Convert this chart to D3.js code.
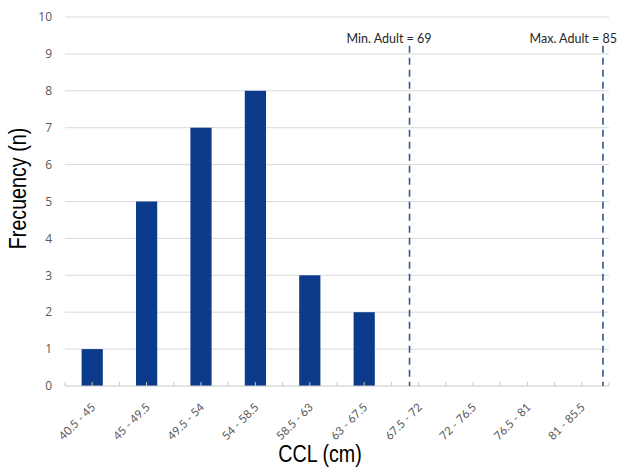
<!DOCTYPE html>
<html>
<head>
<meta charset="utf-8">
<script src="https://cdn.jsdelivr.net/npm/d3@7"></script>
<style>
  body { margin: 0; background: #fff; }
</style>
</head>
<body>
<div id="chart"></div>
<script>
// data
var bins = ["40.5 - 45", "45 - 49.5", "49.5 - 54", "54 - 58.5", "58.5 - 63",
            "63 - 67.5", "67.5 - 72", "72 - 76.5", "76.5 - 81", "81 - 85.5"];
var counts = [1, 5, 7, 8, 3, 2, 0, 0, 0, 0];
var yTicks = [0, 1, 2, 3, 4, 5, 6, 7, 8, 9, 10];
var refNames = ["Min. Adult = 69", "Max. Adult = 85"];
var refValues = [69, 85];
var ccl = [40.5, 85.5];

var svgWidth = 618;
var svgHeight = 467;
var margin = { top: 17, right: 9, bottom: 81, left: 65 };
var width = svgWidth - margin.left - margin.right;
var height = svgHeight - margin.top - margin.bottom;

var svg = d3.select("#chart")
  .append("svg")
  .attr("width", svgWidth)
  .attr("height", svgHeight);

var g = svg.append("g")
  .attr("transform", `translate(${margin.left}, ${margin.top})`);

var x = d3.scaleBand().domain(bins).range([0, width]).padding(0);
var xLin = d3.scaleLinear().domain(ccl).range([0, width]);
var y = d3.scaleLinear().domain([0, 10]).range([height, 0]);

// gridlines
g.selectAll(".grid")
  .data(yTicks.filter(d => d > 0))
  .enter().append("line")
  .attr("x1", 0).attr("x2", width)
  .attr("y1", d => y(d)).attr("y2", d => y(d))
  .attr("stroke", "#d9d9d9").attr("stroke-width", 1);

// y tick labels
g.selectAll(".ylab")
  .data(yTicks)
  .enter().append("text")
  .attr("x", -13)
  .attr("y", d => y(d))
  .attr("dy", "0.35em")
  .attr("text-anchor", "end")
  .style("font-family", "Open Sans, sans-serif")
  .style("font-size", "12px")
  .attr("fill", "#595959")
  .text(d => d);

// bars
var barW = x.bandwidth() * 0.39;
g.selectAll(".bar")
  .data(counts)
  .enter().append("rect")
  .attr("x", (d, i) => x(bins[i]) + x.bandwidth() / 2 - barW / 2)
  .attr("y", d => y(d))
  .attr("width", barW)
  .attr("height", d => height - y(d))
  .attr("fill", "#0c3b8c");

// x axis line and ticks (edges and centres)
g.append("line")
  .attr("x1", 0).attr("x2", width)
  .attr("y1", height).attr("y2", height)
  .attr("stroke", "#c8c8c8");

var tickPos = [];
bins.forEach(function (b) {
  tickPos.push(x(b));
  tickPos.push(x(b) + x.bandwidth() / 2);
});
tickPos.push(width);
g.selectAll(".xtick")
  .data(tickPos)
  .enter().append("line")
  .attr("x1", d => d).attr("x2", d => d)
  .attr("y1", height).attr("y2", height - 4)
  .attr("stroke", "#c8c8c8");

// x tick labels
g.selectAll(".xlab")
  .data(bins)
  .enter().append("text")
  .attr("transform", d => `translate(${x(d) + x.bandwidth() / 2 + 4}, ${height + 22}) rotate(-45)`)
  .attr("text-anchor", "end")
  .style("font-family", "Lato, sans-serif")
  .style("font-size", "11.5px")
  .attr("fill", "#595959")
  .text(d => d);

// reference lines
g.selectAll(".ref")
  .data(refValues)
  .enter().append("line")
  .attr("x1", d => xLin(d)).attr("x2", d => xLin(d))
  .attr("y1", y(9.22)).attr("y2", height)
  .attr("stroke", "#2f5b8f")
  .attr("stroke-width", 1.6)
  .attr("stroke-dasharray", "7,5");

g.selectAll(".reflab")
  .data(refValues)
  .enter().append("text")
  .attr("x", d => Math.min(xLin(d) + 22, width + margin.right - 1))
  .attr("y", y(9.22) - 3)
  .attr("text-anchor", "end")
  .style("font-family", "Lato, sans-serif")
  .style("font-size", "12.5px")
  .attr("fill", "#262626")
  .text((d, i) => refNames[i]);

// axis titles (narrow look)
svg.append("text")
  .attr("transform", `translate(26, ${margin.top + height / 2 - 13}) rotate(-90) scale(0.82, 1)`)
  .attr("text-anchor", "middle")
  .style("font-family", "Liberation Sans, Arial, sans-serif")
  .style("font-size", "24px")
  .attr("fill", "#000")
  .text("Frecuency (n)");

svg.append("text")
  .attr("transform", `translate(320, 462) scale(0.82, 1)`)
  .attr("text-anchor", "middle")
  .style("font-family", "Liberation Sans, Arial, sans-serif")
  .style("font-size", "24px")
  .attr("fill", "#000")
  .text("CCL (cm)");
</script>
</body>
</html>
